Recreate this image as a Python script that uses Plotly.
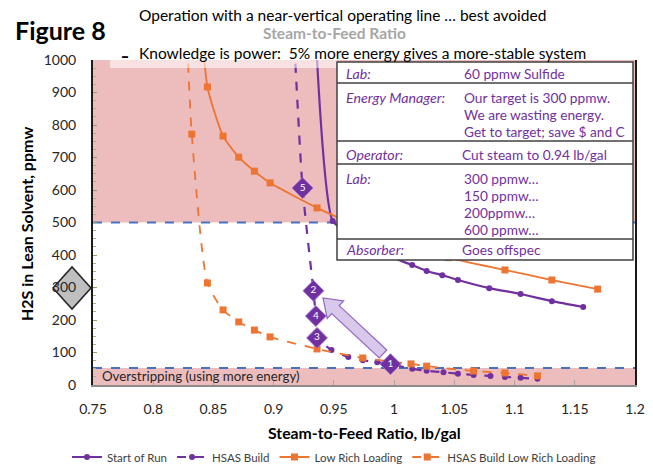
import math
import plotly.graph_objects as go

# ---------------- data ----------------
sor_x = [0.9346, 0.949, 0.962, 0.976, 0.99, 1.015, 1.027, 1.040, 1.053, 1.079, 1.105, 1.131, 1.157]
sor_y = [1100, 505, 468, 432, 405, 369, 351, 338, 323, 298, 280, 258, 240]

hb_x = [0.9165, 0.924, 0.933, 0.935, 0.936, 0.948, 0.962, 0.974, 0.986, 0.997, 1.015, 1.027,
        1.041, 1.053, 1.066, 1.080, 1.092, 1.105, 1.119]
hb_y = [1100, 606, 290, 212, 145, 108, 86, 76, 70, 64, 50, 44, 39, 35, 31, 28, 25, 22, 19]

lr_x = [0.8406, 0.845, 0.858, 0.871, 0.884, 0.897, 0.936, 0.97, 1.0, 1.03, 1.045, 1.092, 1.131, 1.169]
lr_y = [1100, 917, 766, 701, 658, 622, 545, 490, 450, 413, 392, 354, 323, 295]

hl_x = [0.8277, 0.832, 0.845, 0.858, 0.871, 0.884, 0.897, 0.936, 0.974, 1.014, 1.027, 1.066, 1.092, 1.119]
hl_y = [1100, 772, 314, 231, 194, 169, 148, 111, 83, 65, 58, 43, 37, 28]

step_x = [0.997, 0.933, 0.936, 0.935, 0.924]
step_y = [64, 290, 145, 212, 606]
step_labels = ["1", "2", "3", "4", "5"]

x_ticks = [0.75, 0.8, 0.85, 0.9, 0.95, 1.0, 1.05, 1.1, 1.15, 1.2]
x_ticktext = ["0.75", "0.8", "0.85", "0.9", "0.95", "1", "1.05", "1.1", "1.15", "1.2"]
y_ticks = [0, 100, 200, 300, 400, 500, 600, 700, 800, 900, 1000]

upper_limit = 500
lower_limit = 52
target = 300

series_names = ["Start of Run", "HSAS Build", "Low Rich Loading", "HSAS Build Low Rich Loading"]

table_rows = [
    ("Lab:", ["60 ppmw Sulfide"]),
    ("Energy Manager:", ["Our target is 300 ppmw.", "We are wasting energy.", "Get to target; save $ and C"]),
    ("Operator:", ["Cut steam to 0.94 lb/gal"]),
    ("Lab:", ["300 ppmw…", "150 ppmw…", "200ppmw…", "600 ppmw…"]),
    ("Absorber:", ["Goes offspec"]),
]

# ---------------- styling ----------------
FONT = "Lato"
PURPLE = "#7030A0"
ORANGE = "#EE7431"
PINK = "#EDBDBD"
BLUE = "#4472C4"

W, H = 653, 467
L, R, T, B = 93, 635, 60, 385
X0, X1, Y0, Y1 = 0.75, 1.2, 0, 1000


def fx(px):
    return (px - L) / (R - L)


def fy(py):
    return (B - py) / (B - T)


def dx(px):
    return X0 + (px - L) / (R - L) * (X1 - X0)


def dy(py):
    return Y0 + (B - py) / (B - T) * (Y1 - Y0)


fig = go.Figure()

fig.add_trace(go.Scatter(x=sor_x, y=sor_y, name=series_names[0], mode="lines+markers",
                         line=dict(color=PURPLE, width=2.2, shape="spline", smoothing=0.6),
                         marker=dict(symbol="circle", size=6, color=PURPLE)))
fig.add_trace(go.Scatter(x=hb_x, y=hb_y, name=series_names[1], mode="lines+markers",
                         line=dict(color=PURPLE, width=2.2, dash="dash", shape="spline", smoothing=0.6),
                         marker=dict(symbol="circle", size=6, color=PURPLE)))
fig.add_trace(go.Scatter(x=lr_x, y=lr_y, name=series_names[2], mode="lines+markers",
                         line=dict(color=ORANGE, width=1.8, shape="spline", smoothing=0.6),
                         marker=dict(symbol="square", size=7, color=ORANGE)))
fig.add_trace(go.Scatter(x=hl_x, y=hl_y, name=series_names[3], mode="lines+markers",
                         line=dict(color=ORANGE, width=1.8, dash="dash", shape="spline", smoothing=0.6),
                         marker=dict(symbol="square", size=7, color=ORANGE)))
fig.add_trace(go.Scatter(x=step_x, y=step_y, mode="markers+text", text=step_labels,
                         textposition="middle center", showlegend=False,
                         textfont=dict(family=FONT, size=10, color="white"),
                         marker=dict(symbol="diamond", size=16, color=PURPLE,
                                     line=dict(color="#9B6CC8", width=1))))

shapes = []
# shaded regions
shapes.append(dict(type="rect", xref="x", yref="y", x0=X0, x1=X1, y0=upper_limit, y1=Y1,
                   fillcolor=PINK, line=dict(width=0), layer="below"))
shapes.append(dict(type="rect", xref="x", yref="y", x0=X0, x1=X1, y0=Y0, y1=lower_limit,
                   fillcolor=PINK, line=dict(width=0), layer="below"))
# limit lines
for yv in (upper_limit, lower_limit):
    shapes.append(dict(type="line", xref="x", yref="y", x0=X0, x1=X1, y0=yv, y1=yv,
                       line=dict(color=BLUE, width=2, dash="dash"), layer="below"))

# lighter strip under the "Knowledge is power" text
shapes.append(dict(type="rect", xref="paper", yref="paper", x0=fx(110), x1=fx(337), y0=fy(68), y1=fy(60),
                   fillcolor="rgba(255,255,255,0.55)", line=dict(width=0), layer="above"))

# block arrow
tip = (323, 298)
tail = (383, 354)
ux, uy = tip[0] - tail[0], tip[1] - tail[1]
ln = math.hypot(ux, uy)
ux, uy = ux / ln, uy / ln
nx, ny = -uy, ux
sw, hw, hl = 5.5, 12, 17
base = (tip[0] - ux * hl, tip[1] - uy * hl)
pts = [
    (tail[0] + nx * sw, tail[1] + ny * sw),
    (base[0] + nx * sw, base[1] + ny * sw),
    (base[0] + nx * hw, base[1] + ny * hw),
    tip,
    (base[0] - nx * hw, base[1] - ny * hw),
    (base[0] - nx * sw, base[1] - ny * sw),
    (tail[0] - nx * sw, tail[1] - ny * sw),
]
path = "M " + " L ".join(f"{dx(px):.5f},{dy(py):.3f}" for px, py in pts) + " Z"
shapes.append(dict(type="path", xref="x", yref="y", path=path, fillcolor="#D8C9EA",
                   line=dict(color="#9466C4", width=1.2), layer="above"))

# table box
tb_l, tb_r, tb_t, tb_b = 337, 633, 62, 260
shapes.append(dict(type="rect", xref="paper", yref="paper", x0=fx(tb_l), x1=fx(tb_r), y0=fy(tb_b), y1=fy(tb_t),
                   fillcolor="white", line=dict(color="#404040", width=1.5), layer="above"))
for py in (83, 141, 164, 239):
    shapes.append(dict(type="line", xref="paper", yref="paper", x0=fx(tb_l), x1=fx(tb_r), y0=fy(py), y1=fy(py),
                       line=dict(color="#404040", width=1.5), layer="above"))

# target diamond on the y axis
cx, cy, rw, rh = 72, 288, 19, 21
dpath = (f"M {fx(cx - rw):.4f},{fy(cy):.4f} L {fx(cx):.4f},{fy(cy - rh):.4f} "
         f"L {fx(cx + rw):.4f},{fy(cy):.4f} L {fx(cx):.4f},{fy(cy + rh):.4f} Z")
shapes.append(dict(type="path", xref="paper", yref="paper", path=dpath, fillcolor="#BFBFBF",
                   line=dict(color="#222222", width=1.5), layer="below"))

annotations = []


def ann(text, px, py, size, color="black", xanchor="left", bold=False, italic=False, angle=0):
    t = text
    if bold:
        t = f"<b>{t}</b>"
    if italic:
        t = f"<i>{t}</i>"
    annotations.append(dict(text=t, x=fx(px), y=fy(py), xref="paper", yref="paper", showarrow=False,
                            xanchor=xanchor, yanchor="middle", textangle=angle,
                            font=dict(family=FONT, size=size, color=color)))


ann("Figure 8", 13, 30, 25, bold=True)
ann("Operation with a near-vertical operating line … best avoided", 137, 15, 15.5)
ann("Steam-to-Feed Ratio", 334, 33, 15.5, color="#A6A6A6", xanchor="center", bold=True)
ann("Knowledge is power:  5% more energy gives a more-stable system", 137, 53, 15.5)
ann("▬", 120, 56, 6)
ann("Overstripping (using more energy)", 100, 376, 13.3, color="#262626")
ann("H2S in Lean Solvent, ppmw", 26, 224, 16, xanchor="center", bold=True, angle=-90)
ann("Steam-to-Feed Ratio, lb/gal", 364, 432, 15.8, xanchor="center", bold=True)

row_label_y = [73, 97, 154, 178, 250]
row_value_x = [462, 462, 460, 462, 460]
line_gap = 17.3
for (label, vals), ly, vx in zip(table_rows, row_label_y, row_value_x):
    ann(label, 344, ly, 14.2, color=PURPLE, italic=True)
    for i, v in enumerate(vals):
        ann(v, vx, ly + i * line_gap, 13.7, color=PURPLE)

fig.update_layout(
    width=W, height=H,
    margin=dict(l=L, r=W - R, t=T, b=H - B, autoexpand=False),
    paper_bgcolor="white", plot_bgcolor="white",
    font=dict(family=FONT, size=13, color="#262626"),
    shapes=shapes, annotations=annotations,
    showlegend=True,
    legend=dict(orientation="h", xref="container", yref="container",
                x=334 / W, xanchor="center", y=1 - 457 / H, yanchor="middle",
                font=dict(family=FONT, size=11.5, color="#404040"), itemwidth=30,
                tracegroupgap=0, bgcolor="rgba(0,0,0,0)"),
    xaxis=dict(range=[X0, X1], tickvals=x_ticks, ticktext=x_ticktext, showgrid=False, zeroline=False,
               automargin=False,
               showline=True, linecolor="#8C8C8C", linewidth=1.5, mirror=False,
               ticks="inside", ticklen=5, tickcolor="#A6A6A6", ticklabelstandoff=10,
               tickfont=dict(family=FONT, size=14, color="#262626")),
    yaxis=dict(range=[Y0, Y1], tickvals=y_ticks, showgrid=False, zeroline=False,
               automargin=False,
               showline=True, linecolor="#1A1A1A", linewidth=2, mirror=True,
               ticks="inside", ticklen=4, tickcolor="#8FA060", ticklabelstandoff=12,
               minor=dict(ticks="inside", ticklen=3, tickcolor="#A8B878", dtick=25),
               tickfont=dict(family=FONT, size=14, color="#262626")),
)

fig.write_html("out.html", config={"displayModeBar": False},
               post_script="document.body.style.margin='0';document.body.style.overflow='hidden';")
